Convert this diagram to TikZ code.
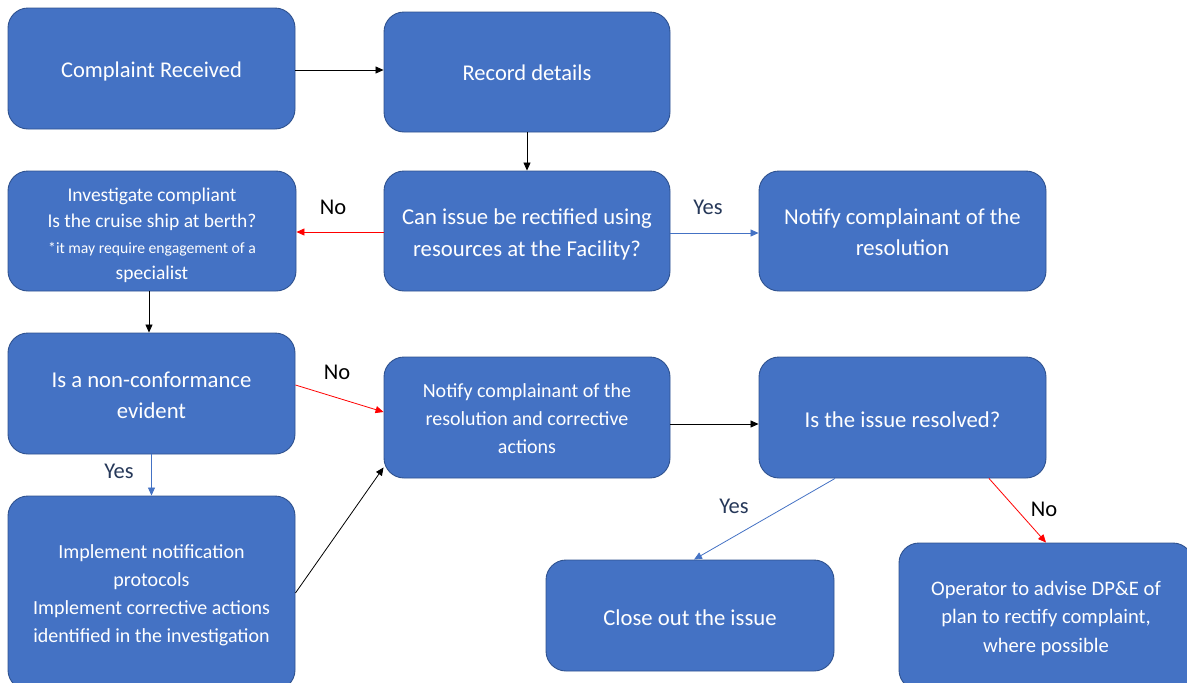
\documentclass[tikz,border=0pt]{standalone}
\usepackage{fontspec}
\setmainfont{Carlito}
\usetikzlibrary{arrows.meta,calc}
\definecolor{boxfill}{HTML}{4472C4}
\definecolor{boxline}{HTML}{2F528F}
\definecolor{yesblue}{HTML}{4472C4}
\definecolor{labnavy}{HTML}{263859}
\tikzset{
  box/.style={draw=boxline, fill=boxfill, line width=0.9pt, rounded corners=20pt, inner sep=0pt},
  txt/.style={text=white, align=center, inner sep=0pt},
  conn/.style={line width=0.8pt, -{Triangle[length=8pt,width=7pt]}},
  blk/.style={conn, draw=black},
  redc/.style={conn, draw=red},
  bluec/.style={conn, draw=yesblue},
  lab/.style={font=\fontsize{22.5}{26}\selectfont, inner sep=0pt},
}
\begin{document}
\begin{tikzpicture}[x=1pt,y=-1pt]
\useasboundingbox (0,0) rectangle (1187,683);
\clip (0,0) rectangle (1187,683);
% boxes
\node[box, minimum width=287pt, minimum height=121pt] (cr) at (151.5,68.5) {};
\node[box, minimum width=286pt, minimum height=120pt] (rd) at (527,72) {};
\node[box, minimum width=288pt, minimum height=120pt] (inv) at (152,231) {};
\node[box, minimum width=286pt, minimum height=120pt] (can) at (527,231) {};
\node[box, minimum width=287pt, minimum height=120pt] (nres) at (902.5,231) {};
\node[box, minimum width=287pt, minimum height=121pt] (isnc) at (151.5,393.5) {};
\node[box, minimum width=286pt, minimum height=121pt] (notc) at (527,417.5) {};
\node[box, minimum width=287pt, minimum height=121pt] (isr) at (902.5,417.5) {};
\node[box, minimum width=287pt, minimum height=194pt] (impl) at (151.5,593) {};
\node[box, minimum width=288pt, minimum height=111pt] (close) at (690,615.5) {};
\node[box, minimum width=294pt, minimum height=147pt] (op) at (1046,616.5) {};
% box texts
\node[txt, font=\fontsize{22.5}{27}\selectfont] (crt) at ($(cr.center)+(0,3)$) {Complaint Received};
\node[txt, font=\fontsize{22.5}{27}\selectfont] (rdt) at ($(rd.center)+(0,1)$) {Record details};
\node[txt, font=\fontsize{19.5}{26}\selectfont] (invt) at ($(inv.center)+(0,4)$) {Investigate compliant\\Is the cruise ship at berth?\\\fontsize{15.7}{22}\selectfont *it may require engagement of a\\specialist};
\node[txt, font=\fontsize{22.7}{32}\selectfont] (cant) at ($(can.center)+(0,3)$) {Can issue be rectified using\\resources at the Facility?};
\node[txt, font=\fontsize{22.7}{31}\selectfont] (nrest) at ($(nres.center)+(0,1.5)$) {Notify complainant of the\\resolution};
\node[txt, font=\fontsize{22.7}{31}\selectfont] (isnct) at ($(isnc.center)+(0,2)$) {Is a non-conformance\\evident};
\node[txt, font=\fontsize{20}{28}\selectfont] (notct) at ($(notc.center)+(0,1)$) {Notify complainant of the\\resolution and corrective\\actions};
\node[txt, font=\fontsize{22.7}{31}\selectfont] (isrt) at ($(isr.center)+(0,2)$) {Is the issue resolved?};
\node[txt, font=\fontsize{20}{28}\selectfont] (implt) at ($(impl.center)+(0,2)$) {Implement notification\\protocols\\Implement corrective actions\\identified in the investigation};
\node[txt, font=\fontsize{22.7}{31}\selectfont] (closet) at ($(close.center)+(0,2)$) {Close out the issue};
\node[txt, font=\fontsize{20.6}{28.5}\selectfont] (opt) at ($(op.center)+(0,2)$) {Operator to advise DP\&E of\\plan to rectify complaint,\\where possible};
% connectors
\draw[blk] (cr.east |- 0,70) -- (rd.west |- 0,70);
\draw[blk] (rd.south) -- (can.north);
\draw[redc] (can.west |- 0,232) -- (inv.east |- 0,232);
\draw[bluec] (can.east |- 0,233) -- (nres.west |- 0,233);
\draw[blk] ($(inv.south)+(-3,0)$) -- ($(isnc.north)+(-2.5,0)$);
\draw[redc] ($(isnc.east)+(0,-8.5)$) -- ($(notc.west)+(0,-5.5)$);
\draw[bluec] (isnc.south) -- (impl.north);
\draw[blk] (impl.east) -- ($(notc.south west)+(0,-11)$);
\draw[blk] (notc.east |- 0,424) -- (isr.west |- 0,424);
\draw[bluec] ($(isr.south)+(-67.5,0)$) -- ($(close.north)+(4,0)$);
\draw[redc] ($(isr.south)+(86.5,0)$) -- (op.north);
% labels
\node[lab, text=black] (l1) at (333,207) {No};
\node[lab, text=labnavy] (l2) at (708,207) {Yes};
\node[lab, text=black] (l3) at (337,372) {No};
\node[lab, text=labnavy] (l4) at (119,471) {Yes};
\node[lab, text=labnavy] (l5) at (734,506) {Yes};
\node[lab, text=black] (l6) at (1044,509) {No};
\end{tikzpicture}
\end{document}
